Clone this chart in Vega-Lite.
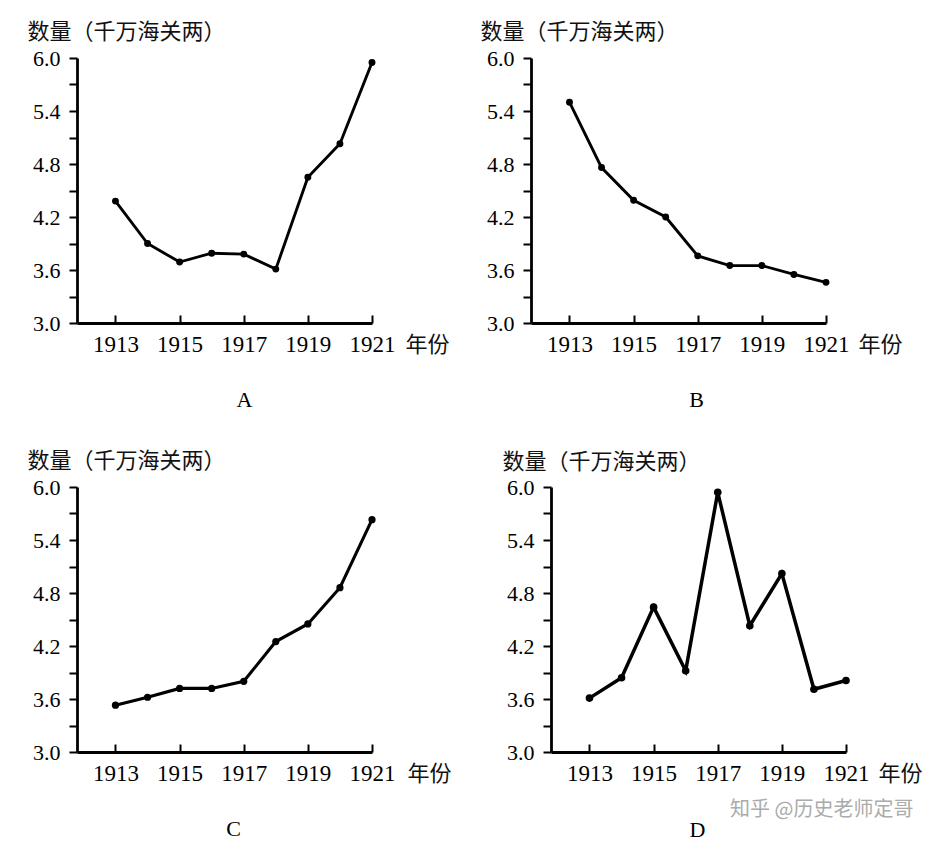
{
  "$schema": "https://vega.github.io/schema/vega-lite/v6.json",
  "autosize": "none",
  "padding": {"left": 77, "top": 58, "right": 864, "bottom": 792},
  "background": "white",
  "title": {"text": "知乎 @历史老师定哥", "orient": "bottom", "anchor": "start", "frame": "group", "offset": -31, "dx": 653, "baseline": "middle", "font": "Noto Sans CJK SC", "fontSize": 20, "fontWeight": "normal", "color": "#ababab"},
  "data": {"values": [
    {"panel": "A", "year": 1913, "value": 4.38}, {"panel": "A", "year": 1914, "value": 3.90}, {"panel": "A", "year": 1915, "value": 3.69},
    {"panel": "A", "year": 1916, "value": 3.79}, {"panel": "A", "year": 1917, "value": 3.78}, {"panel": "A", "year": 1918, "value": 3.61},
    {"panel": "A", "year": 1919, "value": 4.65}, {"panel": "A", "year": 1920, "value": 5.03}, {"panel": "A", "year": 1921, "value": 5.95},
    {"panel": "B", "year": 1913, "value": 5.50}, {"panel": "B", "year": 1914, "value": 4.76}, {"panel": "B", "year": 1915, "value": 4.39},
    {"panel": "B", "year": 1916, "value": 4.20}, {"panel": "B", "year": 1917, "value": 3.76}, {"panel": "B", "year": 1918, "value": 3.65},
    {"panel": "B", "year": 1919, "value": 3.65}, {"panel": "B", "year": 1920, "value": 3.55}, {"panel": "B", "year": 1921, "value": 3.46},
    {"panel": "C", "year": 1913, "value": 3.53}, {"panel": "C", "year": 1914, "value": 3.62}, {"panel": "C", "year": 1915, "value": 3.72},
    {"panel": "C", "year": 1916, "value": 3.72}, {"panel": "C", "year": 1917, "value": 3.80}, {"panel": "C", "year": 1918, "value": 4.25},
    {"panel": "C", "year": 1919, "value": 4.45}, {"panel": "C", "year": 1920, "value": 4.86}, {"panel": "C", "year": 1921, "value": 5.63},
    {"panel": "D", "year": 1913, "value": 3.61}, {"panel": "D", "year": 1914, "value": 3.84}, {"panel": "D", "year": 1915, "value": 4.64},
    {"panel": "D", "year": 1916, "value": 3.92}, {"panel": "D", "year": 1917, "value": 5.94}, {"panel": "D", "year": 1918, "value": 4.43},
    {"panel": "D", "year": 1919, "value": 5.02}, {"panel": "D", "year": 1920, "value": 3.71}, {"panel": "D", "year": 1921, "value": 3.81}
  ]},
  "spacing": 38,
  "bounds": "full",
  "vconcat": [
    {
      "spacing": 159,
      "bounds": "flush",
      "hconcat": [
        {
          "width": 295, "height": 265,
          "title": {"text": "A", "orient": "bottom", "frame": "group", "offset": 51, "baseline": "alphabetic", "dx": 20},
          "transform": [{"filter": "datum.panel === 'A'"}],
          "encoding": {
            "x": {"field": "year", "type": "quantitative", "scale": {"domain": [1911.8, 1921], "nice": false, "zero": false},
              "axis": {"title": "年份", "titleX": 328, "titleY": 21, "titleAlign": "left", "titleBaseline": "middle", "values": [1913, 1915, 1917, 1919, 1921], "format": "d", "tickSize": -8, "labelPadding": 18, "labelFontSize": 23, "labelFlush": false, "labelOverlap": false}},
            "y": {"field": "value", "type": "quantitative", "scale": {"domain": [3, 6], "nice": false, "zero": false},
              "axis": {"title": "数量（千万海关两）", "titleAngle": 0, "titleX": -50, "titleY": -27, "titleAlign": "left", "titleBaseline": "middle", "values": [3, 3.3, 3.6, 3.9, 4.2, 4.5, 4.8, 5.1, 5.4, 5.7, 6], "labelExpr": "round(datum.value*10) % 6 === 0 ? format(datum.value, '.1f') : ''", "tickSize": 8, "labelPadding": 9, "labelFlush": false, "labelOverlap": false}}
          },
          "layer": [
            {"mark": {"type": "line", "color": "black", "strokeWidth": 2.9}},
            {"mark": {"type": "point", "filled": true, "color": "black", "size": 48, "opacity": 1}}
          ]
        },
        {
          "width": 295, "height": 265,
          "title": {"text": "B", "orient": "bottom", "frame": "group", "offset": 51, "baseline": "alphabetic", "dx": 18},
          "transform": [{"filter": "datum.panel === 'B'"}],
          "encoding": {
            "x": {"field": "year", "type": "quantitative", "scale": {"domain": [1911.8, 1921], "nice": false, "zero": false},
              "axis": {"title": "年份", "titleX": 327, "titleY": 21, "titleAlign": "left", "titleBaseline": "middle", "values": [1913, 1915, 1917, 1919, 1921], "format": "d", "tickSize": -8, "labelPadding": 18, "labelFontSize": 23, "labelFlush": false, "labelOverlap": false}},
            "y": {"field": "value", "type": "quantitative", "scale": {"domain": [3, 6], "nice": false, "zero": false},
              "axis": {"title": "数量（千万海关两）", "titleAngle": 0, "titleX": -51, "titleY": -27, "titleAlign": "left", "titleBaseline": "middle", "values": [3, 3.3, 3.6, 3.9, 4.2, 4.5, 4.8, 5.1, 5.4, 5.7, 6], "labelExpr": "round(datum.value*10) % 6 === 0 ? format(datum.value, '.1f') : ''", "tickSize": 8, "labelPadding": 9, "labelFlush": false, "labelOverlap": false}}
          },
          "layer": [
            {"mark": {"type": "line", "color": "black", "strokeWidth": 2.9}},
            {"mark": {"type": "point", "filled": true, "color": "black", "size": 48, "opacity": 1}}
          ]
        }
      ]
    },
    {
      "spacing": 179,
      "bounds": "flush",
      "hconcat": [
        {
          "width": 295, "height": 265,
          "title": {"text": "C", "orient": "bottom", "frame": "group", "offset": 51, "baseline": "alphabetic", "dx": 9},
          "transform": [{"filter": "datum.panel === 'C'"}],
          "encoding": {
            "x": {"field": "year", "type": "quantitative", "scale": {"domain": [1911.8, 1921], "nice": false, "zero": false},
              "axis": {"title": "年份", "titleX": 330, "titleY": 21, "titleAlign": "left", "titleBaseline": "middle", "values": [1913, 1915, 1917, 1919, 1921], "format": "d", "tickSize": -8, "labelPadding": 18, "labelFontSize": 23, "labelFlush": false, "labelOverlap": false}},
            "y": {"field": "value", "type": "quantitative", "scale": {"domain": [3, 6], "nice": false, "zero": false},
              "axis": {"title": "数量（千万海关两）", "titleAngle": 0, "titleX": -50, "titleY": -27, "titleAlign": "left", "titleBaseline": "middle", "values": [3, 3.3, 3.6, 3.9, 4.2, 4.5, 4.8, 5.1, 5.4, 5.7, 6], "labelExpr": "round(datum.value*10) % 6 === 0 ? format(datum.value, '.1f') : ''", "tickSize": 8, "labelPadding": 9, "labelFlush": false, "labelOverlap": false}}
          },
          "layer": [
            {"mark": {"type": "line", "color": "black", "strokeWidth": 3.1}},
            {"mark": {"type": "point", "filled": true, "color": "black", "size": 52, "opacity": 1}}
          ]
        },
        {
          "width": 295, "height": 265,
          "title": {"text": "D", "orient": "bottom", "frame": "group", "offset": 52, "baseline": "alphabetic", "dx": -1},
          "transform": [{"filter": "datum.panel === 'D'"}],
          "encoding": {
            "x": {"field": "year", "type": "quantitative", "scale": {"domain": [1911.8, 1921], "nice": false, "zero": false},
              "axis": {"title": "年份", "titleX": 327, "titleY": 21, "titleAlign": "left", "titleBaseline": "middle", "values": [1913, 1915, 1917, 1919, 1921], "format": "d", "tickSize": -8, "labelPadding": 18, "labelFontSize": 23, "labelFlush": false, "labelOverlap": false}},
            "y": {"field": "value", "type": "quantitative", "scale": {"domain": [3, 6], "nice": false, "zero": false},
              "axis": {"title": "数量（千万海关两）", "titleAngle": 0, "titleX": -49, "titleY": -26, "titleAlign": "left", "titleBaseline": "middle", "values": [3, 3.3, 3.6, 3.9, 4.2, 4.5, 4.8, 5.1, 5.4, 5.7, 6], "labelExpr": "round(datum.value*10) % 6 === 0 ? format(datum.value, '.1f') : ''", "tickSize": 8, "labelPadding": 9, "labelFlush": false, "labelOverlap": false}}
          },
          "layer": [
            {"mark": {"type": "line", "color": "black", "strokeWidth": 3.5}},
            {"mark": {"type": "point", "filled": true, "color": "black", "size": 58, "opacity": 1}}
          ]
        }
      ]
    }
  ],
  "config": {
    "view": {"stroke": null},
    "axis": {"domainColor": "black", "domainWidth": 2.8, "tickColor": "black", "tickWidth": 2, "labelColor": "black", "labelFont": "Liberation Serif", "labelFontSize": 22, "titleFont": "Noto Sans CJK SC", "titleFontSize": 22, "titleFontWeight": "normal", "titleColor": "#111111", "grid": false},
    "title": {"font": "Liberation Serif", "fontSize": 22, "fontWeight": "normal", "color": "black"}
  }
}
